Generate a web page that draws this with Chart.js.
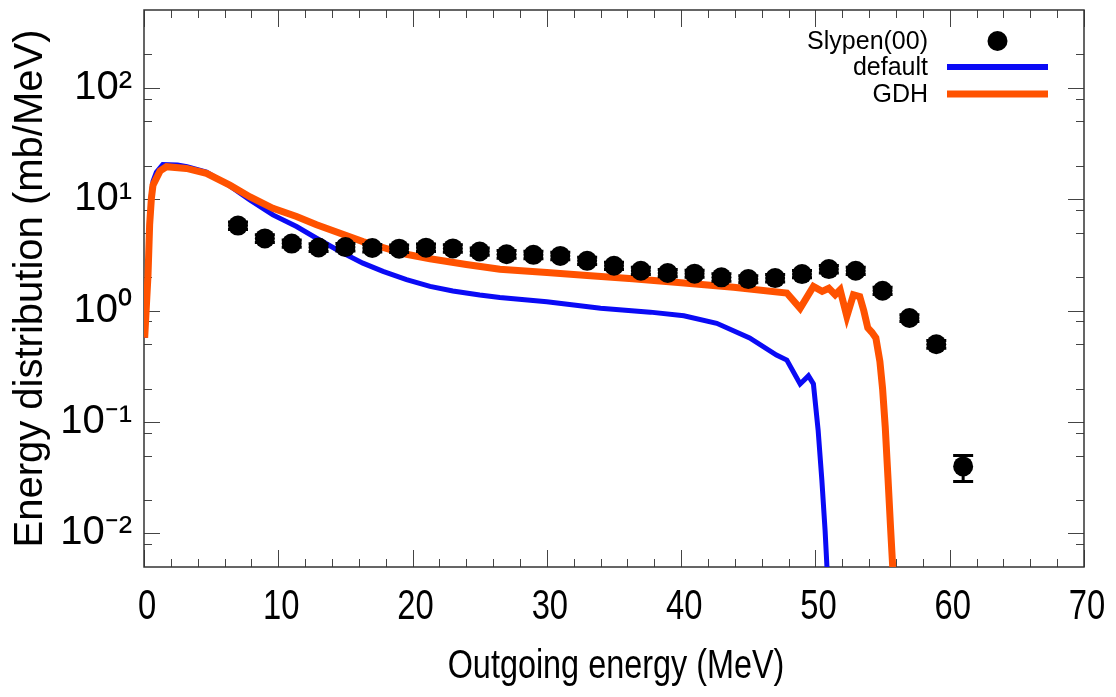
<!DOCTYPE html>
<html>
<head>
<meta charset="utf-8">
<script src="https://cdn.jsdelivr.net/npm/chart.js@4.4.1/dist/chart.umd.min.js"></script>
<style>
  body { margin: 0; background: #fff; }
  canvas { display: block; }
</style>
</head>
<body>
<canvas id="chart" width="1116" height="697"></canvas>
<script>
// experimental points, Slypen(00)
const expE = [7, 9, 11, 13, 15, 17, 19, 21, 23, 25, 27, 29, 31, 33, 35, 37, 39, 41, 43, 45, 47, 49, 51, 53, 55, 57, 59, 61];
const expY = [5.8, 4.45, 4.0, 3.69, 3.72, 3.65, 3.6, 3.68, 3.62, 3.4, 3.21, 3.17, 3.1, 2.8, 2.53, 2.28, 2.18, 2.15, 1.99, 1.92, 1.96, 2.13, 2.36, 2.28, 1.51, 0.86, 0.50, 0.040];
const expLo = [5.35, 4.1, 3.7, 3.4, 3.43, 3.37, 3.32, 3.4, 3.34, 3.14, 2.96, 2.93, 2.86, 2.59, 2.34, 2.11, 2.02, 1.99, 1.84, 1.78, 1.81, 1.97, 2.18, 2.11, 1.40, 0.80, 0.46, 0.0292];
const expHi = [6.25, 4.8, 4.3, 3.98, 4.0, 3.93, 3.88, 3.96, 3.9, 3.66, 3.46, 3.41, 3.34, 3.01, 2.72, 2.45, 2.34, 2.31, 2.14, 2.06, 2.11, 2.29, 2.54, 2.45, 1.62, 0.92, 0.54, 0.050];

// calculation "default"
const defE = [0.05, 0.3, 0.42, 0.55, 0.67, 0.92, 1.4, 2.5, 3.2, 4.65, 6.39, 7.88, 9.6, 11.36, 12.85, 14.6, 16.3, 17.8, 19.55, 21.3, 23, 25, 26.5, 30, 34, 37.7, 40.2, 42.65, 45.1, 47.1, 47.87, 48.86, 49.48, 49.85, 50.2, 50.48, 50.72, 50.9];
const defY = [0.57, 2.2, 6.2, 11, 14.5, 17.5, 20.5, 20.3, 19.6, 17.5, 13.2, 9.86, 7.24, 5.69, 4.47, 3.4, 2.67, 2.25, 1.9, 1.65, 1.5, 1.38, 1.31, 1.2, 1.05, 0.97, 0.9, 0.77, 0.57, 0.40, 0.36, 0.22, 0.26, 0.22, 0.085, 0.03, 0.0106, 0.004];

// calculation "GDH"
const gdhE = [0.05, 0.3, 0.42, 0.55, 0.67, 0.92, 1.2, 1.67, 3.16, 4.65, 6.39, 7.9, 9.6, 11.36, 12.85, 14.6, 16.3, 17.8, 19.55, 21.3, 24, 26.5, 30, 33, 36.4, 40, 43.9, 47.87, 48.86, 49.85, 50.5, 51.0, 51.47, 51.84, 52.34, 52.83, 53.3, 53.6, 53.9, 54.2, 54.5, 54.8, 55.0, 55.2, 55.4, 55.6, 55.8];
const gdhY = [0.57, 2.1, 5.9, 10.2, 13.4, 15.4, 18, 19.6, 18.9, 17.1, 13.4, 10.5, 8.3, 7.0, 5.9, 4.95, 4.17, 3.69, 3.21, 2.92, 2.6, 2.35, 2.2, 2.07, 1.93, 1.78, 1.62, 1.44, 1.05, 1.65, 1.49, 1.59, 1.39, 1.54, 0.89, 1.39, 1.34, 1.0, 0.7, 0.64, 0.57, 0.35, 0.2, 0.09, 0.032, 0.011, 0.004];

// axes
const xTicks = [0, 10, 20, 30, 40, 50, 60, 70];
const yTicks = [0.01, 0.1, 1, 10, 100];
const yLabels = ['10\u207B\u00B2', '10\u207B\u00B9', '10\u2070', '10\u00B9', '10\u00B2'];
const yMin = 0.005, yMax = 500;
const xTitle = 'Outgoing energy (MeV)';

const BLUE = '#0a0af5';
const ORANGE = '#ff5200';
const FONT = '"Liberation Sans", Arial, sans-serif';

const pairs = (xs, ys) => xs.map((x, i) => ({ x: x, y: ys[i] }));

// minor tick positions
const xMinor = [];
for (let v = 2; v < 70; v += 2) if (v % 10 !== 0) xMinor.push(v);
const yMinor = [];
[0.001, 0.01, 0.1, 1, 10, 100].forEach(d => [2, 5, 8].forEach(m => {
    const v = d * m;
    if (v > yMin && v < yMax) yMinor.push(v);
}));

// draw text squeezed horizontally (the x axis uses a narrow face)
function narrowText(ctx, text, cx, cy, size, squeeze) {
    ctx.save();
    ctx.translate(cx, cy);
    ctx.scale(squeeze, 1);
    ctx.font = size + 'px ' + FONT;
    ctx.textAlign = 'center';
    ctx.textBaseline = 'middle';
    ctx.fillStyle = '#000';
    ctx.fillText(text, 0, 0);
    ctx.restore();
}

const frameTicks = {
    id: 'frameTicks',
    beforeDatasetsDraw(chart) {
        const { ctx, chartArea: a, scales: { x, y } } = chart;
        ctx.save();
        ctx.strokeStyle = '#444';
        ctx.lineWidth = 1;
        ctx.beginPath();
        const tick = (px, len, horiz) => {
            if (horiz) {
                ctx.moveTo(px, a.bottom); ctx.lineTo(px, a.bottom - len);
                ctx.moveTo(px, a.top); ctx.lineTo(px, a.top + len);
            } else {
                ctx.moveTo(a.left, px); ctx.lineTo(a.left + len, px);
                ctx.moveTo(a.right, px); ctx.lineTo(a.right - len, px);
            }
        };
        xTicks.forEach(v => tick(Math.round(x.getPixelForValue(v)) + 0.5, 17, true));
        xMinor.forEach(v => tick(Math.round(x.getPixelForValue(v)) + 0.5, 8, true));
        yTicks.forEach(v => tick(Math.round(y.getPixelForValue(v)) + 0.5, 16, false));
        yMinor.forEach(v => tick(Math.round(y.getPixelForValue(v)) + 0.5, 8, false));
        ctx.stroke();
        ctx.strokeStyle = '#333';
        ctx.lineWidth = 1.5;
        ctx.strokeRect(a.left, a.top, a.right - a.left, a.bottom - a.top);
        ctx.restore();

        // x tick labels and title
        xTicks.forEach(v => narrowText(ctx, String(v), x.getPixelForValue(v) + 3, a.bottom + 40, 42, 0.78));
        narrowText(ctx, xTitle, (a.left + a.right) / 2 + 2, a.bottom + 100, 41, 0.79);
    },
    afterDatasetsDraw(chart) {
        // error bars of the experimental points
        const { ctx, scales: { x, y } } = chart;
        ctx.save();
        ctx.strokeStyle = '#000';
        ctx.lineWidth = 3;
        ctx.beginPath();
        expE.forEach((e, i) => {
            const px = x.getPixelForValue(e);
            const lo = y.getPixelForValue(expLo[i]);
            const hi = y.getPixelForValue(expHi[i]);
            ctx.moveTo(px, lo); ctx.lineTo(px, hi);
            ctx.moveTo(px - 10, lo); ctx.lineTo(px + 10, lo);
            ctx.moveTo(px - 10, hi); ctx.lineTo(px + 10, hi);
        });
        ctx.stroke();
        ctx.restore();
    },
    afterDraw(chart) {
        // legend, top right inside the frame
        const { ctx, chartArea: a } = chart;
        const textX = a.right - 156;
        const symL = a.right - 137, symR = a.right - 36;
        const rows = [a.top + 31, a.top + 57, a.top + 84];
        ctx.save();
        ctx.font = '25px ' + FONT;
        ctx.textAlign = 'right';
        ctx.textBaseline = 'middle';
        ctx.fillStyle = '#000';
        const ds = chart.data.datasets;
        ds.forEach((d, i) => ctx.fillText(d.label, textX, rows[i] + 1));
        ctx.beginPath();
        ctx.arc((symL + symR) / 2, rows[0], 10, 0, Math.PI * 2);
        ctx.fill();
        ctx.lineWidth = 6;
        ctx.strokeStyle = ds[1].borderColor;
        ctx.beginPath(); ctx.moveTo(symL, rows[1]); ctx.lineTo(symR, rows[1]); ctx.stroke();
        ctx.lineWidth = 7;
        ctx.strokeStyle = ds[2].borderColor;
        ctx.beginPath(); ctx.moveTo(symL, rows[2]); ctx.lineTo(symR, rows[2]); ctx.stroke();
        ctx.restore();
    }
};

const chart = new Chart(document.getElementById('chart'), {
    type: 'scatter',
    data: {
        datasets: [
            {
                label: 'Slypen(00)',
                data: pairs(expE, expY),
                pointRadius: 10,
                pointHoverRadius: 10,
                backgroundColor: '#000',
                borderWidth: 0,
                showLine: false
            },
            {
                label: 'default',
                data: pairs(defE, defY),
                showLine: true,
                borderColor: BLUE,
                borderWidth: 5,
                pointRadius: 0,
                tension: 0,
                order: 2
            },
            {
                label: 'GDH',
                data: pairs(gdhE, gdhY),
                showLine: true,
                borderColor: ORANGE,
                borderWidth: 7,
                pointRadius: 0,
                tension: 0,
                order: 1
            }
        ]
    },
    options: {
        responsive: false,
        animation: false,
        events: [],
        layout: { padding: { top: 7, right: 32, left: 0, bottom: 0 } },
        plugins: {
            legend: { display: false },
            tooltip: { enabled: false }
        },
        scales: {
            x: {
                type: 'linear',
                min: 0,
                max: 70,
                grid: { display: false },
                border: { display: false },
                afterBuildTicks: s => { s.ticks = xTicks.map(v => ({ value: v })); },
                afterFit: s => { s.height = 130; s.paddingLeft = 0; s.paddingRight = 0; },
                ticks: { display: false }
            },
            y: {
                type: 'logarithmic',
                min: yMin,
                max: yMax,
                grid: { display: false },
                border: { display: false },
                afterBuildTicks: s => { s.ticks = yTicks.map(v => ({ value: v })); },
                afterFit: s => { s.width = 144; s.paddingTop = 0; s.paddingBottom = 0; },
                ticks: {
                    color: '#000',
                    padding: 4,
                    font: { family: FONT, size: 40 },
                    callback: v => yLabels[yTicks.indexOf(v)]
                },
                title: {
                    display: true,
                    text: 'Energy distribution (mb/MeV)',
                    color: '#000',
                    padding: { top: 7, bottom: 0 },
                    font: { family: FONT, size: 40 }
                }
            }
        }
    },
    plugins: [frameTicks]
});
</script>
</body>
</html>
